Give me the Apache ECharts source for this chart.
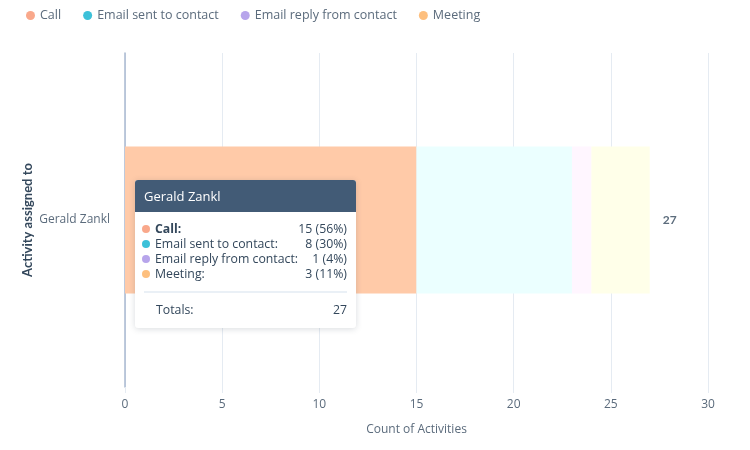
<!DOCTYPE html>
<html>
<head>
<meta charset="utf-8">
<script src="https://cdn.jsdelivr.net/npm/echarts@6/dist/echarts.min.js"></script>
<style>
html, body { margin: 0; padding: 0; background: #fff; }
#main { width: 750px; height: 450px; }
</style>
</head>
<body>
<div id="main"></div>
<script>
// data
var reps = ['Gerald Zankl'];
var activityTypes = ['Call', 'Email sent to contact', 'Email reply from contact', 'Meeting'];
var callCounts = [15];
var emailSentCounts = [8];
var emailReplyCounts = [1];
var meetingCounts = [3];
var xMin = 0, xMax = 30, xStep = 5;

var seriesValues = [callCounts, emailSentCounts, emailReplyCounts, meetingCounts];
// legend dot colours and the (faded, Call hovered) bar colours
var dotColors = ['#f9a88b', '#3cc1d9', '#b7a5eb', '#fdbf7e'];
var barColors = ['#ffb899', '#d6f1f8', '#e9e0fa', '#fde9d4'];

var totals = reps.map(function (r, i) {
    var s = 0;
    seriesValues.forEach(function (v) { s += v[i]; });
    return s;
});

var myChart = echarts.init(document.getElementById('main'));

function tipHtml(i) {
    var rows = activityTypes.map(function (name, k) {
        var v = seriesValues[k][i];
        var pct = Math.round(v / totals[i] * 100);
        return '<div style="display:flex;justify-content:space-between;line-height:15px;white-space:nowrap">' +
            '<span><span style="display:inline-block;width:8px;height:8px;border-radius:50%;margin-right:5px;background:' + dotColors[k] + '"></span>' +
            '<span style="' + (k === 0 ? 'font-weight:bold' : '') + '">' + name + ':</span></span>' +
            '<span>' + v + ' (' + pct + '%)</span></div>';
    }).join('');
    return '<div style="width:221px;font-family:\'Open Sans\',sans-serif;color:#33475b;font-size:12.3px">' +
        '<div style="background:#425b76;color:#fff;font-size:13px;padding:0 9px;height:32px;line-height:32px;border-radius:3px 3px 0 0">' + reps[i] + '</div>' +
        '<div style="padding:9px 9px 0 7px">' + rows + '</div>' +
        '<div style="margin:10px 9px 0 9px;border-top:2px solid #eaf0f6"></div>' +
        '<div style="display:flex;justify-content:space-between;padding:9px 9px 11px 21px;line-height:15px"><span>Totals:</span><span>' + totals[i] + '</span></div>' +
        '</div>';
}

var series = activityTypes.map(function (name, k) {
    return {
        name: name,
        type: 'bar',
        stack: 'total',
        barWidth: '44%',
        itemStyle: { color: barColors[k] },
        data: seriesValues[k]
    };
});
// total at the end of each bar
series.push({
    name: 'Total',
    type: 'scatter',
    symbolSize: 1,
    silent: true,
    itemStyle: { color: 'rgba(0,0,0,0)' },
    label: {
        show: true,
        position: 'right',
        distance: 10,
        formatter: function (p) { return p.value[0]; },
        color: '#33475b',
        fontWeight: 'bold',
        fontSize: 12,
        fontFamily: 'Lato'
    },
    data: reps.map(function (r, i) { return [totals[i], r]; })
});

var option = {
    animation: false,
    textStyle: { fontFamily: 'Open Sans' },
    legend: {
        left: 21,
        top: 4,
        icon: 'circle',
        itemWidth: 9,
        itemHeight: 9,
        itemGap: 22,
        textStyle: { color: '#5b6b7c', fontSize: 12.5 },
        data: activityTypes.map(function (name, k) {
            return { name: name, itemStyle: { color: dotColors[k] } };
        })
    },
    grid: { left: 125, right: 42, top: 53, bottom: 63 },
    tooltip: {
        trigger: 'axis',
        axisPointer: { type: 'none' },
        alwaysShowContent: true,
        transitionDuration: 0,
        padding: 0,
        borderWidth: 0,
        backgroundColor: '#fff',
        extraCssText: 'border-radius:3px;box-shadow:0 1px 6px rgba(45,62,80,0.18);',
        position: [135, 180],
        formatter: function (params) { return tipHtml(params[0].dataIndex); }
    },
    xAxis: {
        type: 'value',
        min: xMin,
        max: xMax,
        interval: xStep,
        name: 'Count of Activities',
        nameLocation: 'middle',
        nameGap: 37,
        nameTextStyle: { color: '#5b6b7c', fontSize: 12 },
        axisLine: { show: false },
        axisTick: { show: true, length: 6, lineStyle: { color: '#e5ebf2' } },
        axisLabel: { color: '#5b6b7c', fontSize: 12, margin: 12 },
        splitLine: { lineStyle: { color: '#e5ebf2' } }
    },
    yAxis: {
        type: 'category',
        data: reps,
        name: 'Activity assigned to',
        nameLocation: 'middle',
        nameGap: 91,
        nameMoveOverlap: false,
        nameRotate: 90,
        nameTextStyle: { color: '#33475b', fontSize: 13, fontWeight: 'bold', fontFamily: 'Lato' },
        axisLine: { show: true, lineStyle: { color: '#a9b9d0', width: 1.5 } },
        axisTick: { show: false },
        axisLabel: { color: '#5b6b7c', fontSize: 12, margin: 15 }
    },
    series: series
};

myChart.setOption(option);
myChart.dispatchAction({ type: 'showTip', seriesIndex: 0, dataIndex: 0 });
</script>
</body>
</html>
